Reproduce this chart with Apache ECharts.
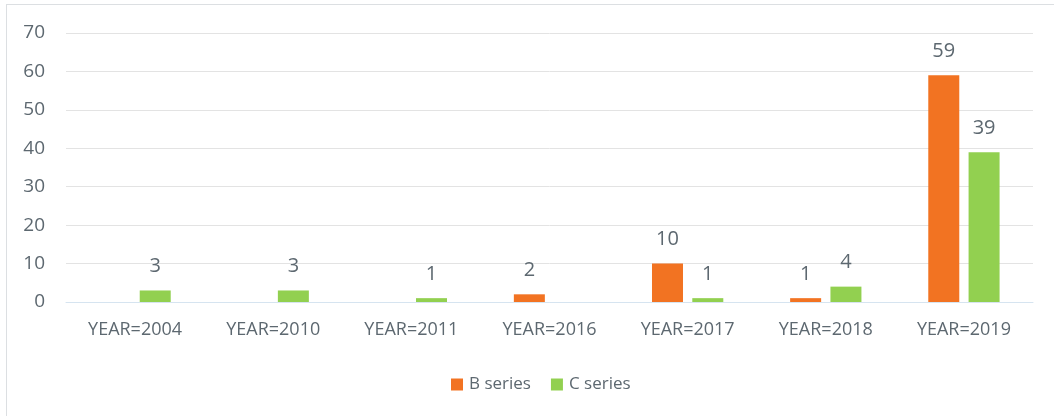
<!DOCTYPE html>
<html>
<head>
<meta charset="utf-8">
<script src="https://cdn.jsdelivr.net/npm/echarts@6/dist/echarts.min.js"></script>
<style>
  html, body { margin: 0; padding: 0; background: #fff; overflow: hidden; }
  #moldura {
    position: absolute; left: 6px; top: 4px; width: 1200px; height: 600px;
    border: 1px solid #dcdfe2; box-sizing: border-box;
  }
  #grafico { position: absolute; left: 0; top: 0; width: 1054px; height: 416px; }
</style>
</head>
<body>
<div id="moldura"></div>
<div id="grafico"></div>
<script>
// dados do gráfico
const anos = ['YEAR=2004', 'YEAR=2010', 'YEAR=2011', 'YEAR=2016', 'YEAR=2017', 'YEAR=2018', 'YEAR=2019'];
const serieB = [null, null, null, 2, 10, 1, 59];
const serieC = [3, 3, 1, null, 1, 4, 39];
const ticksY = [0, 10, 20, 30, 40, 50, 60, 70];

const corTexto = '#5d6870';
const fonte = '"Open Sans", sans-serif';

const myChart = echarts.init(document.getElementById('grafico'));

const rotulo = {
  show: true,
  position: 'top',
  distance: 14,
  color: corTexto,
  fontFamily: fonte,
  fontSize: 20,
};

const option = {
  animation: false,
  textStyle: { fontFamily: fonte },
  grid: { left: 66, right: 21, top: 33, bottom: 114 },
  legend: {
    left: 446,
    top: 371,
    icon: 'rect',
    itemWidth: 12,
    itemHeight: 12,
    itemGap: 20,
    textStyle: { color: corTexto, fontFamily: fonte, fontSize: 17, padding: [0, 0, 0, 1] },
    data: ['B series', 'C series'],
  },
  xAxis: {
    type: 'category',
    data: anos,
    axisLine: { lineStyle: { color: '#d6e4f0', width: 1 } },
    axisTick: { show: false },
    axisLabel: { color: corTexto, fontFamily: fonte, fontSize: 18, margin: 19 },
  },
  yAxis: {
    type: 'value',
    min: ticksY[0],
    max: ticksY[ticksY.length - 1],
    interval: 10,
    axisLine: { show: false },
    axisTick: { show: false },
    axisLabel: { color: corTexto, fontFamily: fonte, fontSize: 19, margin: 21 },
    splitLine: { lineStyle: { color: '#e3e3e3' } },
  },
  series: [
    {
      name: 'B series',
      type: 'bar',
      data: serieB,
      barWidth: 31,
      barGap: '30%',
      itemStyle: { color: '#f27322' },
      label: rotulo,
    },
    {
      name: 'C series',
      type: 'bar',
      data: serieC,
      barWidth: 31,
      itemStyle: { color: '#92d050' },
      label: rotulo,
    },
  ],
};

myChart.setOption(option);
</script>
</body>
</html>
